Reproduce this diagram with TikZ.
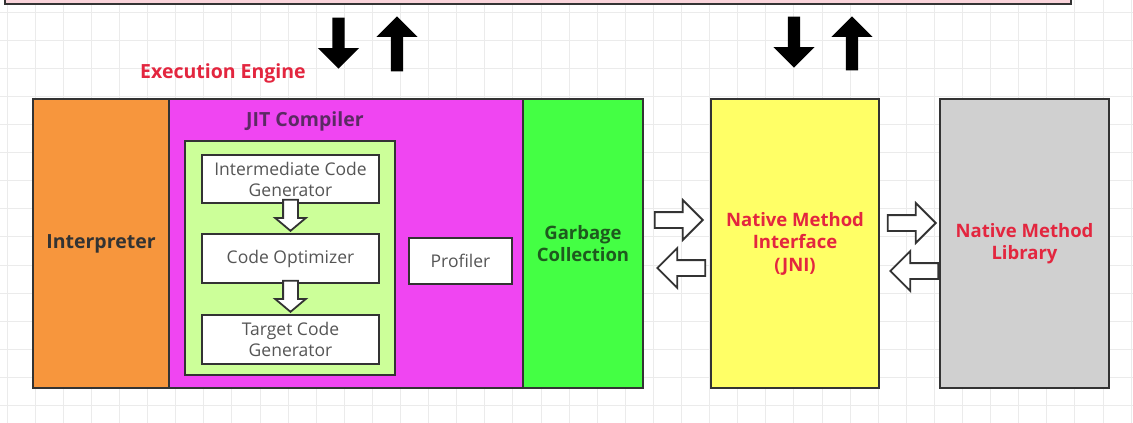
\documentclass[tikz,border=0pt]{standalone}
\usepackage{fontspec}
\setmainfont{Open Sans}
\usepackage{xcolor}
\usepackage{tikz}
\usetikzlibrary{positioning,shapes.arrows,calc}
\definecolor{BoxLine}{HTML}{333333}
\definecolor{GridGray}{HTML}{EBEBEB}
\definecolor{TopPink}{HTML}{F9D3DA}
\definecolor{InterpOrange}{HTML}{F7963D}
\definecolor{JitMagenta}{HTML}{F045F2}
\definecolor{PaleGreen}{HTML}{CCFF99}
\definecolor{GcGreen}{HTML}{44FF44}
\definecolor{JniYellow}{HTML}{FFFF66}
\definecolor{LibGray}{HTML}{D0D0D0}
\definecolor{LabelRed}{HTML}{E3263F}
\definecolor{JitText}{HTML}{5B2A63}
\definecolor{GcText}{HTML}{1E5A1E}
\definecolor{StageText}{HTML}{555555}

\begin{document}
\begin{tikzpicture}[
  x=1pt,y=-1pt,
  box/.style={draw=BoxLine,line width=2pt,outer sep=0pt,inner sep=0pt,align=center},
  tall/.style={box,minimum height=289pt,font=\fontsize{18.5}{22.5}\selectfont\bfseries},
  stagebox/.style={box,fill=white,minimum width=177pt,minimum height=48pt,font=\fontsize{17.5}{21}\selectfont,text=StageText},
  hollow/.style={single arrow,draw=BoxLine,line width=1.8pt,fill=white,inner xsep=0pt,inner ysep=7pt,
    minimum width=1pt,minimum height=48pt,single arrow head extend=12pt,anchor=tip},
  flowdown/.style={single arrow,draw=BoxLine,line width=1.8pt,fill=white,inner xsep=0pt,inner ysep=6.5pt,
    minimum width=1pt,minimum height=31pt,single arrow head extend=8pt,single arrow tip angle=100,rotate=-90,anchor=tip},
  solid/.style={single arrow,draw=none,fill=black,inner xsep=0pt,inner ysep=6pt,
    minimum width=1pt,single arrow head extend=14.5pt,anchor=tip},
  gridline/.style={GridGray,line width=0.8pt}
]
\useasboundingbox (0,0) rectangle (1133,423);
\fill[white] (0,0) rectangle (1133,423);
\foreach \i in {0,...,40} \draw[gridline] (7+28.1*\i,0) -- (7+28.1*\i,423);
\foreach \i in {0,...,14} \draw[gridline] (0,12+28.1*\i) -- (1133,12+28.1*\i);

\node[box,fill=TopPink,minimum width=1066pt,minimum height=48pt] (rtda) at (538,-20) {};

\node[tall,fill=InterpOrange,minimum width=136pt,text=BoxLine,font=\fontsize{19.5}{22.5}\selectfont\bfseries] (interp) at (101,243.5) {Interpreter};
\node[tall,fill=JitMagenta,minimum width=354pt,right=0pt of interp] (jit) {};
\node[tall,fill=GcGreen,minimum width=120pt,right=0pt of jit,text=GcText] (gc) {Garbage\\Collection};
\node[tall,fill=JniYellow,minimum width=168pt,right=68pt of gc,text=LabelRed] (jni) {Native Method\\Interface\\(JNI)};
\node[tall,fill=LibGray,minimum width=169pt,right=61pt of jni,text=LabelRed] (nml) {Native Method\\Library};

\node[font=\fontsize{19.5}{22}\selectfont\bfseries,text=LabelRed] (engine) at (223,73) {Execution Engine};
\node[font=\fontsize{19.5}{22}\selectfont\bfseries,text=JitText] (jitlabel) at (305,121) {JIT Compiler};

\node[box,fill=PaleGreen,minimum width=210pt,minimum height=234pt] (optbox) at (290,258) {};
\node[stagebox] (icg) at (290.5,179) {Intermediate Code\\Generator};
\node[stagebox,minimum height=49pt,below=31pt of icg] (co) {Code Optimizer};
\node[stagebox,minimum height=49pt,below=32pt of co] (tcg) {Target Code\\Generator};
\node[stagebox,minimum width=103pt,minimum height=46pt] (prof) at (460.5,261) {Profiler};

\node[flowdown] (icg2co) at ($(co.north)+(0,-2)$) {};
\node[flowdown] (co2tcg) at ($(tcg.north)+(0,-2)$) {};

\node[hollow] (gc2jni) at ($(jni.west)+(-7,-23.5)$) {};
\node[hollow,shape border rotate=180] (jni2gc) at ($(gc.east)+(13,24.5)$) {};
\node[hollow] (jni2nml) at ($(nml.west)+(-3,-20.5)$) {};
\node[hollow,shape border rotate=180] (nml2jni) at ($(jni.east)+(10,27.5)$) {};

\node[solid,minimum height=51pt,rotate=-90] (down1) at (338.5,69) {};
\node[solid,minimum height=55pt,rotate=90] (up1) at (397,16) {};
\node[solid,minimum height=51pt,rotate=-90] (down2) at (794,68) {};
\node[solid,minimum height=54pt,rotate=90] (up2) at (852,16) {};
\end{tikzpicture}
\end{document}
